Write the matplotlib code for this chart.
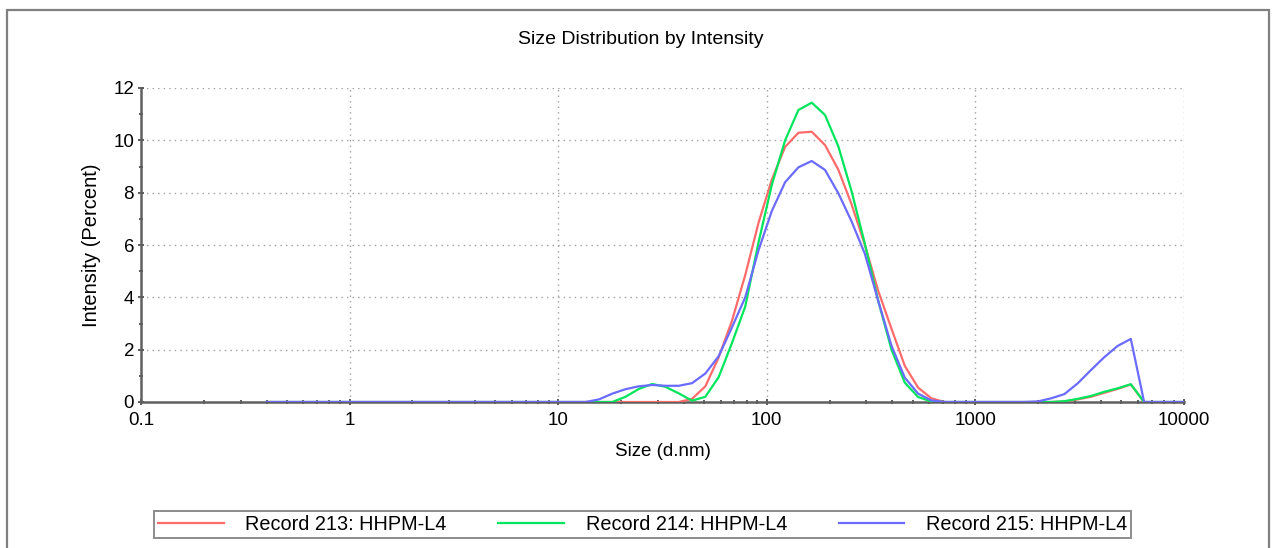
import matplotlib
matplotlib.use("Agg")
import matplotlib.pyplot as plt
from matplotlib.patches import Rectangle
from matplotlib.ticker import FixedLocator, LogLocator, NullFormatter, MultipleLocator

plt.rcParams['font.family'] = ['Liberation Sans', 'DejaVu Sans']

# Malvern size bins (d.nm)
sizes = [0.4, 0.4632, 0.5365, 0.6213, 0.7195, 0.8332, 0.9649, 1.117, 1.294, 1.499,
         1.736, 2.010, 2.328, 2.696, 3.122, 3.615, 4.187, 4.849, 5.615, 6.503,
         7.531, 8.721, 10.10, 11.70, 13.54, 15.69, 18.17, 21.04, 24.36, 28.21,
         32.67, 37.84, 43.82, 50.75, 58.77, 68.06, 78.82, 91.28, 105.7, 122.4,
         141.8, 164.2, 190.1, 220.2, 255.0, 295.3, 342.0, 396.1, 458.7, 531.2,
         615.1, 712.4, 825.0, 955.4, 1106, 1281, 1484, 1718, 1990, 2305,
         2669, 3091, 3580, 4145, 4801, 5560, 6439, 7456, 8635, 10000]

rec213 = [0]*32 + [0.12, 0.6, 1.7, 3.1, 4.85, 6.85, 8.5, 9.75, 10.29, 10.33,
                   9.82, 8.88, 7.55, 6.0, 4.25, 2.8, 1.38, 0.55, 0.14, 0,
                   0, 0, 0, 0, 0, 0, 0, 0, 0.02, 0.1,
                   0.2, 0.35, 0.5, 0.67, 0, 0, 0, 0]
rec214 = [0]*27 + [0.2, 0.5, 0.69, 0.58, 0.33, 0.05, 0.2, 0.95, 2.25, 3.65,
                   6.1, 8.3, 10.0, 11.16, 11.44, 10.97, 9.77, 8.05, 6.04, 3.87,
                   2.0, 0.74, 0.19, 0.02, 0, 0, 0, 0, 0, 0,
                   0, 0, 0, 0.03, 0.12, 0.23, 0.39, 0.52, 0.68, 0,
                   0, 0, 0]
rec215 = [0]*25 + [0.1, 0.32, 0.49, 0.6, 0.65, 0.62, 0.62, 0.72, 1.09, 1.75,
                   2.85, 4.0, 5.8, 7.3, 8.4, 8.97, 9.21, 8.87, 7.98, 6.9,
                   5.66, 3.87, 2.15, 0.93, 0.32, 0.06, 0, 0, 0, 0,
                   0, 0, 0, 0.02, 0.14, 0.3, 0.71, 1.22, 1.71, 2.14,
                   2.41, 0, 0, 0, 0]

labels = ["Record 213: HHPM-L4", "Record 214: HHPM-L4", "Record 215: HHPM-L4"]
colors = ["#ff6b6b", "#00e65c", "#6b6bff"]
xticks = [0.1, 1, 10, 100, 1000, 10000]
xticklabels = ["0.1", "1", "10", "100", "1000", "10000"]
yticks = [0, 2, 4, 6, 8, 10, 12]

W, H = 1273, 548
fig = plt.figure(figsize=(W/100, H/100), dpi=100)
ax = fig.add_axes([141/W, 1 - 402/H, (1184-141)/W, (402-88)/H])

# outer frame
fig.patches.append(Rectangle((7/W, -0.05), (1269-7)/W, 1 - 10/H + 0.05,
                             transform=fig.transFigure, fill=False,
                             ec="#808080", lw=1.6, zorder=0))

for y, lab, c, z in zip([rec213, rec214, rec215], labels, colors, [3, 4, 5]):
    ax.plot(sizes, y, color=c, lw=1.6, label=lab, zorder=z)

ax.set_xscale("log")
ax.set_xlim(0.1, 10000)
ax.set_ylim(0, 12)
ax.xaxis.set_major_locator(FixedLocator(xticks))
ax.set_xticklabels(xticklabels)
ax.xaxis.set_minor_locator(LogLocator(base=10, subs=range(2, 10)))
ax.xaxis.set_minor_formatter(NullFormatter())
ax.set_yticks(yticks)
ax.yaxis.set_minor_locator(MultipleLocator(1))

grid_kw = dict(color="#a0a0a0", lw=1.0, ls=(0, (1, 3)))
for x in xticks[1:]:
    ax.axvline(x, zorder=1, **grid_kw)
for y in yticks[1:]:
    ax.axhline(y, zorder=1, **grid_kw)

for s in ["top", "right"]:
    ax.spines[s].set_visible(False)
for s in ["left", "bottom"]:
    ax.spines[s].set_color("#606060")
    ax.spines[s].set_linewidth(1.8)
ax.tick_params(which="both", direction="inout", color="#404040", width=1.2)
ax.tick_params(which="major", length=4, labelsize=13.5)
ax.tick_params(axis="x", which="major", pad=5)
ax.tick_params(axis="y", which="major", pad=3)
ax.tick_params(which="minor", length=3)

ax.set_xlabel("Size (d.nm)", fontsize=13.5, labelpad=10)
ax.set_ylabel("Intensity (Percent)", fontsize=14.5, labelpad=9)
fig.text(641/W, 1 - 40/H, "Size Distribution by Intensity", ha="center",
         va="center", fontsize=14)

leg = fig.legend(loc="center left", ncol=3,
                 bbox_to_anchor=(154/W, 1 - 524.5/H),
                 fontsize=14.3, handlelength=3.3, handletextpad=1.1,
                 fancybox=False, frameon=True, borderaxespad=0,
                 borderpad=0.2, columnspacing=2.6)
leg.get_frame().set_edgecolor("#707070")
leg.get_frame().set_linewidth(1.4)

fig.savefig("out.png", dpi=100)
